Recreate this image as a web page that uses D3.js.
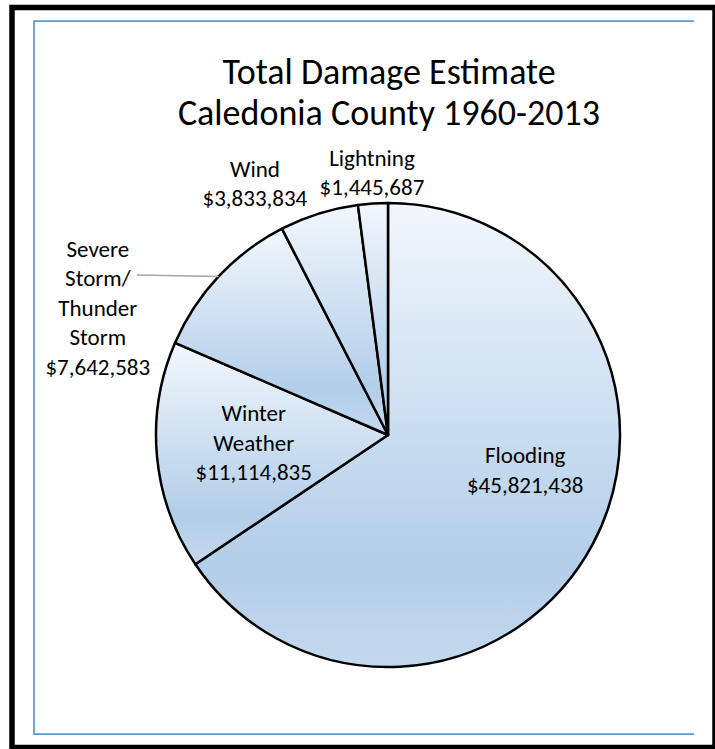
<!DOCTYPE html>
<html lang="en">
<head>
  <meta charset="UTF-8">
  <title>Total Damage Estimate - Caledonia County 1960-2013</title>
  <script src="https://cdnjs.cloudflare.com/ajax/libs/d3/7.8.5/d3.min.js"></script>
  <style>
    html, body { margin: 0; padding: 0; background: #fff; }
    svg { display: block; }
    text { font-family: Carlito, Calibri, Lato, sans-serif; fill: #000; }
    .slice { stroke: #000; stroke-width: 2.5px; stroke-linejoin: round; }
    .label { font-size: 23px; text-anchor: middle; }
    .title { font-size: 36px; text-anchor: middle; }
  </style>
</head>
<body>
  <svg width="715" height="749"></svg>
  <script>
    // data
    var categories = ["Flooding", "Winter Weather", "Severe Storm/ Thunder Storm", "Wind", "Lightning"]
    var values = [45821438, 11114835, 7642583, 3833834, 1445687]
    // label text, one array of lines per slice (value line added below)
    var labelLines = [
      ["Flooding"],
      ["Winter", "Weather"],
      ["Severe", "Storm/", "Thunder", "Storm"],
      ["Wind"],
      ["Lightning"]
    ]
    var titleLines = ["Total Damage Estimate", "Caledonia County 1960-2013"]

    // where each label sits: angle (deg, clockwise from 12 o'clock) and radius as share of R
    var labelAngle = [104.3, 266.6, 293.7, 332.1, 356.5]
    var labelRadius = [0.61, 0.58, 1.366, 1.226, 1.134]
    var leader = [false, false, true, false, false]

    var cx = 388, cy = 435, R = 232
    var lineH = 29.5

    var svg = d3.select("svg")

    // gradient like Excel's light gradient, applied per slice bbox
    var grad = svg.append("defs").append("linearGradient")
      .attr("id", "sliceFill")
      .attr("x1", 0).attr("y1", 0).attr("x2", 0).attr("y2", 1)
    grad.append("stop").attr("offset", "0%").attr("stop-color", "#f2f7fc")
    grad.append("stop").attr("offset", "45%").attr("stop-color", "#cddff1")
    grad.append("stop").attr("offset", "78%").attr("stop-color", "#b3cee9")
    grad.append("stop").attr("offset", "100%").attr("stop-color", "#c4d9ee")

    // outer black frame and blue plot-area lines
    svg.append("rect")
      .attr("x", 12).attr("y", 7.5).attr("width", 703).attr("height", 740)
      .attr("fill", "none").attr("stroke", "#000").attr("stroke-width", 5.5)
    svg.append("path")
      .attr("d", "M694,21H34V734H694")
      .attr("fill", "none").attr("stroke", "#5b9bd5").attr("stroke-width", 1.75)

    // title
    svg.append("text")
      .attr("class", "title")
      .selectAll("tspan")
      .data(titleLines)
      .join("tspan")
      .attr("x", 389)
      .attr("y", (d, i) => 84 + i * 41)
      .text(d => d)

    var pie = d3.pie().sort(null).value(d => d.value)
    var arc = d3.arc().innerRadius(0).outerRadius(R)
    var fmt = d3.format("$,")

    var rows = categories.map((c, i) => ({ key: c, value: values[i], i: i }))
    var arcs = pie(rows)

    var g = svg.append("g").attr("transform", `translate(${cx},${cy})`)

    g.selectAll("path.slice")
      .data(arcs)
      .join("path")
      .attr("class", "slice")
      .attr("fill", "url(#sliceFill)")
      .attr("d", arc)

    // leader lines for outside labels
    arcs.filter(a => leader[a.data.i]).forEach(a => {
      var mid = (a.startAngle + a.endAngle) / 2
      var i = a.data.i
      var la = labelAngle[i] * Math.PI / 180, lr = labelRadius[i] * R
      var lx = lr * Math.sin(la), ly = -lr * Math.cos(la)
      var n = labelLines[i].length + 1
      var top = ly - (n - 1) * lineH / 2
      g.append("path")
        .attr("d", d3.line()([
          [lx + 39, top + lineH - 3],
          [R * Math.sin(mid), -R * Math.cos(mid)]
        ]))
        .attr("fill", "none")
        .attr("stroke", "#a6a6a6")
        .attr("stroke-width", 1.5)
    })

    // data labels
    arcs.forEach(a => {
      var i = a.data.i
      var lines = labelLines[i].concat([fmt(a.data.value)])
      var la = labelAngle[i] * Math.PI / 180, lr = labelRadius[i] * R
      var lx = lr * Math.sin(la), ly = -lr * Math.cos(la)
      var top = ly - (lines.length - 1) * lineH / 2 + 8
      g.append("text")
        .attr("class", "label")
        .selectAll("tspan")
        .data(lines)
        .join("tspan")
        .attr("x", lx)
        .attr("y", (d, k) => top + k * lineH)
        .text(d => d)
    })
  </script>
</body>
</html>
